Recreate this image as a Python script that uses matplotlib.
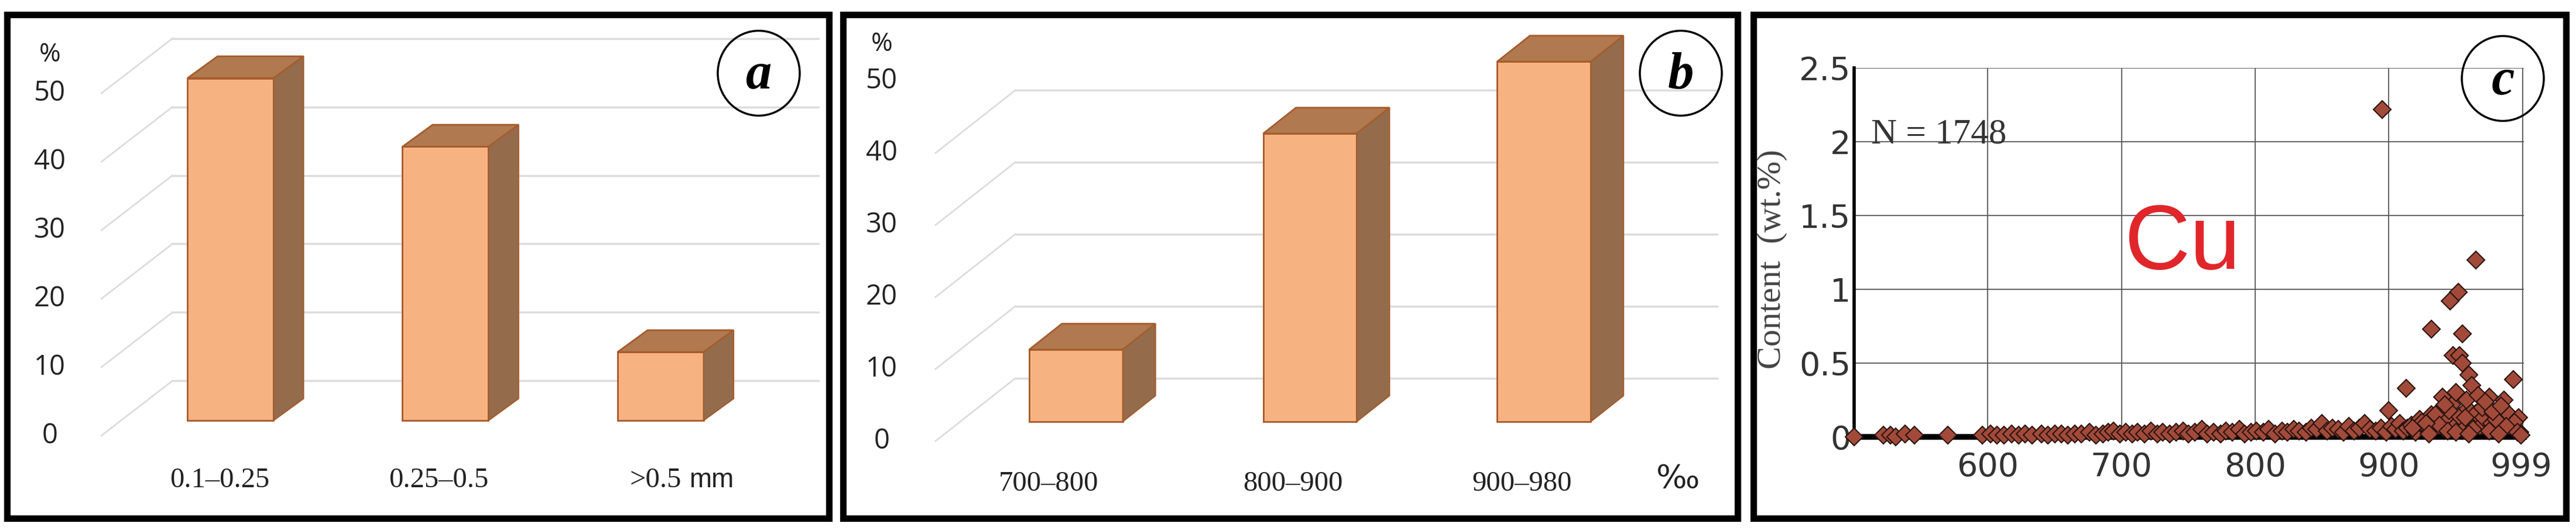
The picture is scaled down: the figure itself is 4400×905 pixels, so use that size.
import matplotlib
matplotlib.use("Agg")
import matplotlib.pyplot as plt
from matplotlib.patches import Rectangle, Ellipse

# ---------------- data ----------------
a_labels = ["0.1–0.25", "0.25–0.5", ">0.5"]
a_values = [50, 40, 10]
b_labels = ["700–800", "800–900", "900–980"]
b_values = [10, 40, 50]
yticks_ab = [0, 10, 20, 30, 40, 50]

c_x = [500, 522, 527, 531, 538, 545, 570, 596, 602, 607, 612, 618, 623, 628, 633, 640, 645, 650,
       655, 660, 665, 670, 676, 681, 686, 690, 694, 699, 703, 708, 712, 717, 722, 727, 731, 736,
       741, 746, 750, 755, 760, 764, 769, 774, 778, 783, 788, 792, 797, 801, 806, 810, 815, 820,
       824, 829, 833, 838, 842, 846, 850, 854, 858, 862, 866, 870, 874, 878, 882, 886, 890, 894,
       898, 902, 905, 908, 911, 914, 917, 920, 923, 926, 929, 932, 935, 938, 941, 944, 947, 950,
       953, 956, 959, 962, 965, 968, 971, 974, 977, 980, 983, 986, 989, 992, 995, 998,
       895, 965, 952, 946, 932, 955, 948, 953, 955, 960, 993, 913, 900, 940, 962, 975, 986, 958,
       970, 990, 935, 945, 980, 997, 925, 942, 950, 967, 978, 984, 938, 957, 972, 994, 918, 928,
       944, 963, 988, 996, 930, 950, 960, 975, 982, 999]
c_y = [0.00, 0.01, 0.01, 0.00, 0.02, 0.01, 0.01, 0.01, 0.02, 0.01, 0.01, 0.02, 0.01, 0.02, 0.01, 0.02, 0.01, 0.02,
       0.02, 0.01, 0.02, 0.02, 0.03, 0.01, 0.02, 0.03, 0.04, 0.02, 0.03, 0.02, 0.03, 0.02, 0.04, 0.02, 0.03, 0.02,
       0.03, 0.04, 0.02, 0.03, 0.05, 0.02, 0.03, 0.02, 0.04, 0.03, 0.05, 0.02, 0.03, 0.04, 0.03, 0.05, 0.02, 0.04,
       0.03, 0.05, 0.04, 0.03, 0.06, 0.05, 0.09, 0.04, 0.06, 0.05, 0.03, 0.07, 0.04, 0.06, 0.09, 0.05, 0.04, 0.06,
       0.03, 0.07, 0.05, 0.09, 0.04, 0.06, 0.08, 0.03, 0.12, 0.07, 0.05, 0.15, 0.09, 0.18, 0.06, 0.12, 0.22, 0.08,
       0.14, 0.05, 0.19, 0.10, 0.16, 0.07, 0.13, 0.20, 0.09, 0.06, 0.15, 0.11, 0.08, 0.12, 0.05, 0.03,
       2.22, 1.20, 0.98, 0.92, 0.73, 0.70, 0.55, 0.55, 0.50, 0.42, 0.39, 0.33, 0.18, 0.27, 0.35, 0.27, 0.25, 0.25,
       0.20, 0.15, 0.15, 0.18, 0.12, 0.13, 0.10, 0.22, 0.30, 0.28, 0.17, 0.21, 0.08, 0.13, 0.24, 0.10, 0.06, 0.09,
       0.04, 0.05, 0.07, 0.03, 0.02, 0.03, 0.02, 0.04, 0.02, 0.01]
c_xticks = [600, 700, 800, 900, 999]
c_yticks = [0, 0.5, 1, 1.5, 2, 2.5]
c_yticklabels = ["0", "0.5", "1", "1.5", "2", "2.5"]

W, H = 4400, 905
fig = plt.figure(figsize=(W / 100, H / 100), dpi=100)

def px_axes(l, t, r, b):
    return fig.add_axes([l / W, 1 - b / H, (r - l) / W, (b - t) / H])

FRONT = "#F7B281"
TOP = "#B0794F"
SIDE = "#946C4C"
EDGE = "#A65A2A"
GRID = "#DCDCDC"

def bars3d(ax, values, labels, xlim, ylim, dx, dy, back_off, lab_off, grid_x0, diag_x0, grid_x1,
           tick_x, pct_y, cat_y, cat_x, grid_levels):
    ax.set_xlim(*xlim)
    ax.set_ylim(*ylim)
    ax.axis("off")
    w = 0.40
    for v in grid_levels:
        ax.plot([grid_x0, grid_x1], [v + back_off, v + back_off], color=GRID, lw=2.5, zorder=1)
        ax.plot([diag_x0, grid_x0], [v + lab_off, v + back_off], color=GRID, lw=2.0, zorder=1)
    xs = range(len(values))
    ax.bar(list(xs), values, width=w, color=FRONT, edgecolor=EDGE, linewidth=2, zorder=3)
    for x, v in zip(xs, values):
        l, r = x - w / 2, x + w / 2
        ax.fill([l, r, r + dx, l + dx], [v, v, v + dy, v + dy], color=TOP, ec=EDGE, lw=2, zorder=3)
        ax.fill([r, r + dx, r + dx, r], [0, dy, v + dy, v], color=SIDE, ec=EDGE, lw=1.5, zorder=3)
    for v in yticks_ab:
        ax.text(tick_x, v + lab_off, str(v), ha="center", va="center", fontsize=34,
                family="Open Sans", color="#222222")
    ax.text(tick_x, pct_y, "%", ha="center", va="center", fontsize=32, family="Open Sans", color="#222222")
    for x, lab in zip(cat_x, labels):
        ax.text(x, cat_y, lab, ha="center", va="center", fontsize=35, family="Liberation Serif", color="#222222")

# Panel a
axa = px_axes(30, 40, 1400, 870)
bars3d(axa, a_values, a_labels, (-0.99, 2.74), (-12.99, 58.0), 0.14, 3.2, 5.8, -2.2,
       -0.27, -0.60, 2.74, -0.84, 53.4, -8.7,
       [(375 - 393) / 367, (748 - 393) / 367, (1118 - 393) / 367], [0, 10, 20, 30, 40, 50])
axa.text((1176 - 393) / 367, -8.7, "mm", ha="left", va="center", fontsize=33, family="Liberation Sans", color="#222222")

# Panel b
axb = px_axes(1470, 40, 2985, 870)
bars3d(axb, b_values, b_labels, (-0.92, 2.87), (-12.2, 55.3), 0.14, 3.6, 6.0, -2.7,
       -0.26, -0.60, 2.74, -0.83, 52.4, -8.6,
       [(1790 - 1837) / 400, (2208 - 1837) / 400, (2599 - 1837) / 400], [0, 10, 20, 30, 40])
axb.text((2866 - 1837) / 400, -8.0, "‰", ha="center", va="center", fontsize=40, family="DejaVu Sans", color="#222222")

# Panel c
axc = px_axes(3167, 116, 4311, 746)
axc.set_xlim(500, 1001)
axc.set_ylim(0, 2.5)
axc.set_xticks(c_xticks)
axc.set_yticks(c_yticks)
axc.set_yticklabels(c_yticklabels)
for xv in [600, 700, 800, 900, 1000]:
    axc.axvline(xv, color="#555555", lw=1.3, zorder=1)
for yv in c_yticks[1:]:
    axc.axhline(yv, color="#555555", lw=1.3, zorder=1)
axc.plot(c_x, c_y, linestyle="none", marker="D", ms=15, mfc="#A24A3A", mec="#2A1410", mew=1.5,
         zorder=3, clip_on=False)
for s in ["top", "right"]:
    axc.spines[s].set_visible(False)
axc.spines["left"].set_linewidth(4)
axc.spines["bottom"].set_linewidth(7)
axc.tick_params(length=0, labelsize=40, pad=4)
for lab in axc.get_xticklabels() + axc.get_yticklabels():
    lab.set_family("Liberation Sans Narrow")
    lab.set_color("#333333")
axc.tick_params(axis="x", pad=18)
fig.text(3027 / W, 1 - 442 / H, "Content  (wt.%)", rotation=90, family="Liberation Serif", fontsize=42,
         color="#444444", ha="center", va="center")
axc.text(0.025, 0.82, "N = 1748", transform=axc.transAxes, family="Liberation Serif", fontsize=44,
         color="#333333", ha="left", va="center")
axc.text(0.49, 0.52, "Cu", transform=axc.transAxes, family="Liberation Sans", fontsize=112,
         color="#E0262A", ha="center", va="center")

# frames
for (l, r) in [(12, 1416), (1440, 2968), (2995, 4383)]:
    fig.patches.append(Rectangle((l / W, 1 - 885 / H), (r - l) / W, (885 - 25) / H,
                                 transform=fig.transFigure, fill=False, ec="black", lw=8))

# circled letters
for cx, cy, t in [(1296, 125, "a"), (2871, 125, "b"), (4275, 134, "c")]:
    fig.patches.append(Ellipse((cx / W, 1 - cy / H), 140 / W, 145 / H, transform=fig.transFigure,
                               fill=False, ec="black", lw=2.5))
    fig.text(cx / W, 1 - (cy + 5) / H, t, ha="center", va="center", fontsize=64,
             family="Liberation Serif", style="italic", weight="bold")

fig.savefig("out.png", dpi=100)
